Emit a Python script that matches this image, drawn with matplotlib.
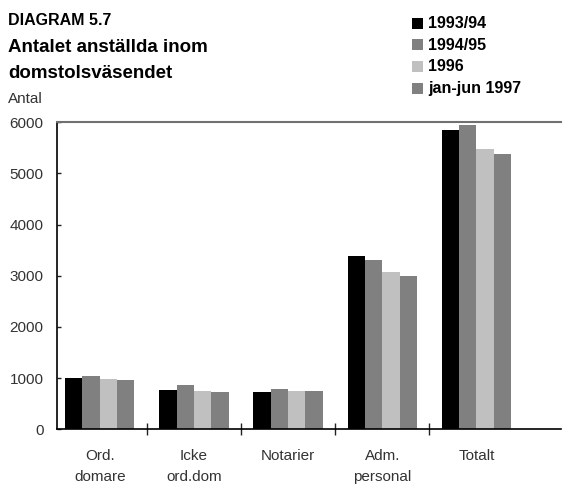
import numpy as np
import matplotlib.pyplot as plt
from matplotlib.patches import Rectangle

plt.rcParams['font.family'] = ['Liberation Sans', 'DejaVu Sans']

# ================== DATA ==================
categories = ["Ord.\ndomare", "Icke\nord.dom", "Notarier", "Adm.\npersonal", "Totalt"]
series = ["1993/94", "1994/95", "1996", "jan-jun 1997"]
v1993 = [1000, 770, 730, 3390, 5850]
v1994 = [1040, 860, 790, 3310, 5945]
v1996 = [980, 750, 750, 3070, 5475]
v1997 = [960, 730, 750, 2995, 5380]
colors = ["#000000", "#808080", "#c0c0c0", "#808080"]
yticks = [0, 1000, 2000, 3000, 4000, 5000, 6000]

# ================== FIGURE ==================
fig = plt.figure(figsize=(5.63, 4.86), dpi=100)
ax = fig.add_axes([0.1018, 0.1167, 0.895, 0.632])

x = np.arange(len(categories))
w = 0.184
for i, vals in enumerate([v1993, v1994, v1996, v1997]):
    ax.bar(x + (i - 1.5) * w, vals, width=w, color=colors[i], linewidth=0)

ax.set_xlim(-0.45, 4.9)
ax.set_ylim(0, 6000)
ax.set_yticks(yticks)
ax.set_yticklabels([str(t) for t in yticks], fontsize=11, color="#333333")
ax.tick_params(axis="y", direction="in", length=3, width=1, pad=10, colors="#222222")
for t in ax.get_yticklabels():
    t.set_color("#333333")

ax.set_xticks(x)
ax.set_xticklabels(categories, fontsize=11, color="#333333", linespacing=1.65)
ax.tick_params(axis="x", which="major", length=0, pad=14)
ax.set_xticks(np.arange(0.5, 4.5, 1), minor=True)
ax.tick_params(axis="x", which="minor", direction="inout", length=8, width=1, color="#222222")

ax.spines["right"].set_visible(False)
ax.spines["top"].set_color("#707070")
ax.spines["top"].set_linewidth(1.5)
ax.spines["left"].set_linewidth(1.2)
ax.spines["bottom"].set_linewidth(1.2)

# ================== TITLES ==================
fig.text(8 / 563, 1 - 20.5 / 486, "DIAGRAM 5.7", fontsize=11.5, fontweight="bold", va="center")
fig.text(8 / 563, 1 - 47 / 486, "Antalet anställda inom", fontsize=13.5, fontweight="bold", va="center")
fig.text(8 / 563, 1 - 74 / 486, "domstolsväsendet", fontsize=13.5, fontweight="bold", va="center")
fig.text(8 / 563, 1 - 99 / 486, "Antal", fontsize=11, color="#333333", va="center")

# ================== LEGEND ==================
for i, (lab, c) in enumerate(zip(series, colors)):
    yc = 1 - (23.5 + i * 21.5) / 486
    fig.patches.append(Rectangle((412 / 563, yc - 5.5 / 486), 11 / 563, 11 / 486,
                                 transform=fig.transFigure, color=c, linewidth=0))
    fig.text(428 / 563, yc, lab, fontsize=11.5, fontweight="bold", va="center")

fig.savefig("out.png", dpi=100)
